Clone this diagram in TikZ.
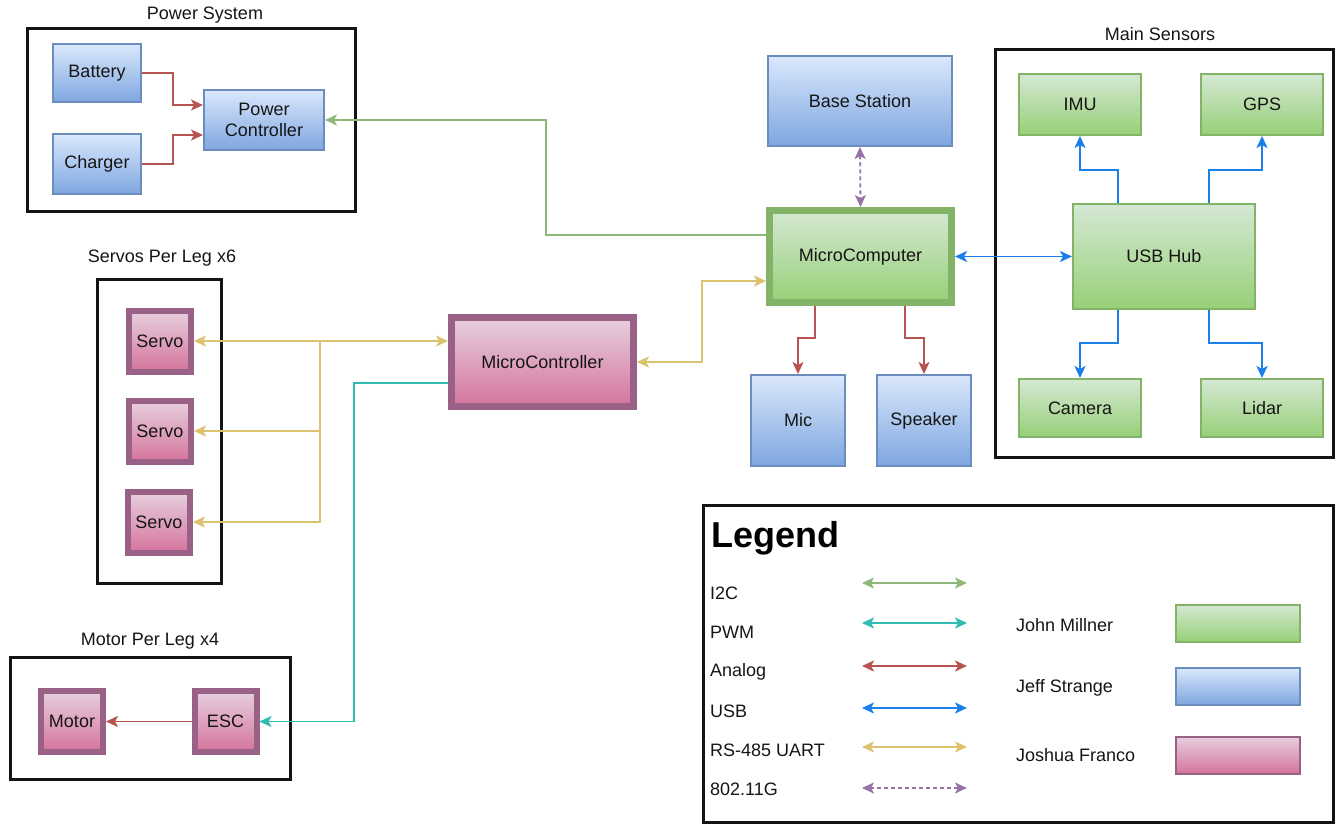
\documentclass[tikz,border=0pt]{standalone}
\usepackage{fontspec}
\setmainfont{Liberation Sans}
\usetikzlibrary{arrows.meta,calc}
\definecolor{bTop}{HTML}{DAE8FC}
\definecolor{bBot}{HTML}{7EA6E0}
\definecolor{bStr}{HTML}{6C8EBF}
\definecolor{gTop}{HTML}{D5E8D4}
\definecolor{gBot}{HTML}{97D077}
\definecolor{gStr}{HTML}{82B366}
\definecolor{pTop}{HTML}{E6D0DE}
\definecolor{pBot}{HTML}{D5739D}
\definecolor{pStr}{HTML}{996185}
\definecolor{cI2C}{HTML}{8DB87A}
\definecolor{cPWM}{HTML}{2FBCB3}
\definecolor{cAna}{HTML}{B85450}
\definecolor{cUSB}{HTML}{1A7FE8}
\definecolor{cUART}{HTML}{D6B656}
\definecolor{cWiFi}{HTML}{9673A6}
\definecolor{txt}{HTML}{151515}
\newcommand\myfs{\fontsize{18}{21}\selectfont}
\begin{document}
\begin{tikzpicture}[x=1pt,y=-1pt,
  >={Stealth[length=12pt,width=11pt,inset=3pt]},
  basebox/.style={rectangle, inner sep=0pt, align=center, font=\myfs, text=txt},
  bluebox/.style={basebox, draw=bStr, line width=2pt, top color=bTop, bottom color=bBot},
  greenbox/.style={basebox, draw=gStr, line width=2pt, top color=gTop, bottom color=gBot},
  greenthick/.style={basebox, draw=gStr, line width=7pt, top color=gTop, bottom color=gBot},
  pinkbox/.style={basebox, draw=pStr, line width=2pt, top color=pTop, bottom color=pBot},
  pinkthick/.style={basebox, draw=pStr, line width=6pt, top color=pTop, bottom color=pBot},
  container/.style={rectangle, draw=black!92, line width=3pt, inner sep=0pt},
  title/.style={font=\myfs, text=txt, inner sep=0pt},
  conn/.style={line width=1.8pt},
  i2c/.style={conn, draw=cI2C},
  pwm/.style={conn, draw=cPWM},
  analog/.style={conn, draw=cAna},
  usb/.style={conn, draw=cUSB},
  uart/.style={conn, draw=cUART!85!white},
  wifi/.style={conn, draw=cWiFi, dash pattern=on 4pt off 3pt},
  lbl/.style={font=\myfs, text=txt, inner sep=0pt, anchor=west}
]
\useasboundingbox (0,0) rectangle (1336,825);

% containers
\node[container, minimum width=328, minimum height=183] (psys) at (191,119.5) {};
\node[title] (pstitle) at (205,15) {Power System};
\node[container, minimum width=124, minimum height=304] (servos) at (159,431) {};
\node[title] (svtitle) at (162,258) {Servos Per Leg x6};
\node[container, minimum width=280, minimum height=122] (motors) at (150,718) {};
\node[title] (mttitle) at (150,641) {Motor Per Leg x4};
\node[container, minimum width=338, minimum height=408] (sensors) at (1164,253) {};
\node[title] (sntitle) at (1160,34) {Main Sensors};
\node[container, minimum width=630, minimum height=317] (legend) at (1018,663.5) {};

% power system
\node[bluebox, minimum width=88, minimum height=58] (bat) at (97,73) {Battery};
\node[bluebox, minimum width=88, minimum height=60] (chg) at (97,164) {Charger};
\node[bluebox, minimum width=120, minimum height=60] (pc) at (264,120) {Power\\Controller};

% central
\node[bluebox, minimum width=184, minimum height=90] (bs) at (860,101) {Base Station};
\node[greenthick, minimum width=182, minimum height=92] (mcomp) at (860.5,256.5) {MicroComputer};
\node[bluebox, minimum width=94, minimum height=91] (mic) at (798,420.5) {Mic};
\node[bluebox, minimum width=94, minimum height=91] (spk) at (924,420.5) {Speaker};
\node[pinkthick, line width=7pt, minimum width=182, minimum height=89] (mctrl) at (542.5,362) {MicroController};

% sensors
\node[greenbox, minimum width=122, minimum height=61] (imu) at (1080,104.5) {IMU};
\node[greenbox, minimum width=122, minimum height=61] (gps) at (1262,104.5) {GPS};
\node[greenbox, minimum width=182, minimum height=105] (hub) at (1164,256.5) {USB Hub};
\node[greenbox, minimum width=122, minimum height=58] (cam) at (1080,408) {Camera};
\node[greenbox, minimum width=122, minimum height=58] (lid) at (1262,408) {Lidar};

% servos and motor
\node[pinkthick, minimum width=62, minimum height=61] (s1) at (160,341) {Servo};
\node[pinkthick, minimum width=62, minimum height=61] (s2) at (160,431) {Servo};
\node[pinkthick, minimum width=62, minimum height=61] (s3) at (159,522) {Servo};
\node[pinkthick, minimum width=62, minimum height=61] (motor) at (72,721.5) {Motor};
\node[pinkthick, minimum width=62, minimum height=61] (esc) at (225.5,721.5) {ESC};

% connectors: power
\draw[analog,->] (bat.east) -- (173,73) |- ([yshift=15pt]pc.west);
\draw[analog,->] (chg.east) -- (173,164) |- ([yshift=-15pt]pc.west);
\draw[i2c,->] ([yshift=21.5pt]mcomp.west) -| (546,120) -- (pc.east);

% central
\draw[wifi,<->] (bs.south) -- (mcomp.north);
\draw[usb,<->] (mcomp.east) -- (hub.west);
\draw[analog,->] (mcomp.south -| 815,0) -- (815,338) -| (mic.north);
\draw[analog,->] (mcomp.south -| 905,0) -- (905,338) -| (spk.north);
\draw[uart,<->] (mctrl.east) -- (702,362) |- ([yshift=-24.5pt]mcomp.west);

% sensors
\draw[usb,->] (hub.north -| 1118,0) -- (1118,170) -| (imu.south);
\draw[usb,->] (hub.north -| 1209,0) -- (1209,170) -| (gps.south);
\draw[usb,->] (hub.south -| 1118,0) -- (1118,343) -| (cam.north);
\draw[usb,->] (hub.south -| 1209,0) -- (1209,343) -| (lid.north);

% servos
\draw[uart,<->] (s1.east) -- (mctrl.west |- s1.east);
\draw[uart,->] (320,341) |- (s2.east);
\draw[uart,->] (320,341) |- (s3.east);

% pwm and motor
\draw[pwm,->] ([yshift=-21pt]mctrl.west) -| (354,721.5) -- (esc.east);
\draw[analog,->] (esc.west) -- (motor.east);

% legend
\node[font=\fontsize{36}{40}\selectfont\bfseries, text=black, inner sep=0pt, anchor=west] (legtitle) at (711,538) {Legend};
\node[lbl] (l1) at (710,593) {I2C};
\node[lbl] (l2) at (710,632) {PWM};
\node[lbl] (l3) at (710,672) {Analog};
\node[lbl] (l4) at (710,711) {USB};
\node[lbl] (l5) at (710,750) {RS-485 UART};
\node[lbl] (l6) at (710,789) {802.11G};
\coordinate (a1) at (862,583); \coordinate (b1) at (967,583);
\coordinate (a2) at (862,623); \coordinate (b2) at (967,623);
\coordinate (a3) at (862,666); \coordinate (b3) at (967,666);
\coordinate (a4) at (862,708); \coordinate (b4) at (967,708);
\coordinate (a5) at (862,747); \coordinate (b5) at (967,747);
\coordinate (a6) at (862,788); \coordinate (b6) at (967,788);
\draw[i2c,<->] (a1) -- (b1);
\draw[pwm,<->] (a2) -- (b2);
\draw[analog,<->] (a3) -- (b3);
\draw[usb,<->] (a4) -- (b4);
\draw[uart,<->] (a5) -- (b5);
\draw[wifi,<->] (a6) -- (b6);
\node[lbl] (n1) at (1016,625) {John Millner};
\node[lbl] (n2) at (1016,688) {Jeff Strange};
\node[lbl] (n3) at (1016,755) {Joshua Franco};
\node[greenbox, minimum width=124, minimum height=37] (sw1) at (1238,623) {};
\node[bluebox, minimum width=124, minimum height=37] (sw2) at (1238,686) {};
\node[pinkbox, minimum width=124, minimum height=37] (sw3) at (1238,755) {};
\end{tikzpicture}
\end{document}
